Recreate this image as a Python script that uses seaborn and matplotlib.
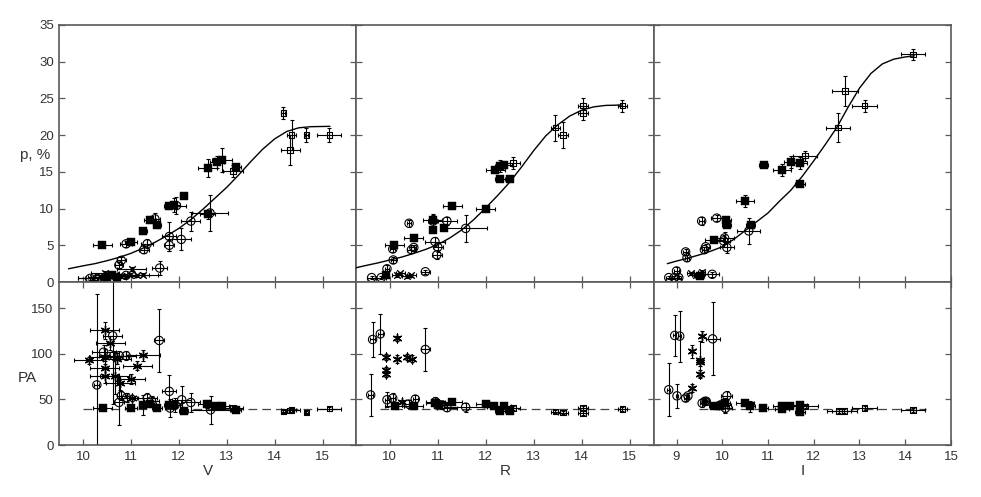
import matplotlib
matplotlib.use("Agg")
import matplotlib.pyplot as plt
import seaborn as sns

# ================= V band =================
V_fsq_x = [10.4, 11.0, 11.25, 11.4, 11.55, 11.8, 11.9, 12.1, 12.6, 12.6, 12.8, 12.9, 13.2, 10.5, 10.6, 10.7]
V_fsq_p = [5.0, 5.4, 6.9, 8.5, 7.8, 10.4, 10.5, 11.7, 15.5, 9.2, 16.3, 16.6, 15.6, 0.7, 0.9, 0.6]
V_fsq_xe = [0.2, 0.12, 0.08, 0.12, 0.08, 0.1, 0.12, 0.08, 0.2, 0.15, 0.15, 0.2, 0.1, 0.15, 0.2, 0.2]
V_fsq_pe = [0.3, 0.3, 0.3, 0.5, 0.4, 0.5, 1.0, 0.3, 1.2, 0.6, 0.8, 1.6, 0.5, 0.3, 0.3, 0.3]

V_oc_x = [10.75, 10.8, 10.9, 11.27, 11.34, 11.5, 11.6, 11.8, 11.8, 11.95, 12.05, 12.25, 12.65, 10.15, 10.3, 10.45, 10.9]
V_oc_p = [2.3, 2.95, 5.2, 4.4, 5.2, 8.6, 1.9, 6.2, 5.0, 10.4, 5.8, 8.3, 9.4, 0.5, 0.5, 0.6, 0.9]
V_oc_xe = [0.08, 0.1, 0.12, 0.1, 0.12, 0.1, 0.15, 0.15, 0.1, 0.2, 0.2, 0.2, 0.38, 0.25, 0.25, 0.25, 0.2]
V_oc_pe = [0.4, 0.5, 0.4, 0.5, 0.6, 0.8, 1.0, 2.0, 0.8, 1.2, 1.5, 1.3, 2.5, 0.2, 0.2, 0.2, 0.2]

V_osq_x = [13.13, 14.18, 14.35, 14.32, 14.66, 15.14]
V_osq_p = [15.1, 23.0, 20.0, 18.0, 20.0, 20.0]
V_osq_xe = [0.2, 0.04, 0.1, 0.2, 0.04, 0.25]
V_osq_pe = [0.8, 0.8, 2.0, 2.0, 1.0, 1.0]

V_x_x = [10.2, 10.35, 10.46, 10.55, 10.67, 10.8, 10.98, 11.02, 11.12, 11.26]
V_x_p = [0.5, 0.7, 1.2, 0.9, 1.0, 0.8, 1.0, 1.8, 0.9, 1.0]
V_x_xe = [0.3, 0.25, 0.3, 0.3, 0.25, 0.3, 0.3, 0.3, 0.25, 0.3]
V_x_pe = [0.2, 0.2, 0.3, 0.2, 0.2, 0.2, 0.2, 0.3, 0.2, 0.2]

V_fit_x = [9.7, 10.0, 10.25, 10.5, 10.75, 11.0, 11.25, 11.5, 11.75, 12.0, 12.25, 12.5, 12.75,
           13.0, 13.25, 13.5, 13.75, 14.0, 14.25, 14.5, 14.75, 15.15]
V_fit_p = [1.8, 2.2, 2.5, 2.9, 3.35, 3.9, 4.6, 5.4, 6.3, 7.3, 8.5, 9.9, 11.4,
           12.9, 14.6, 16.4, 18.1, 19.5, 20.5, 21.0, 21.15, 21.2]

V_fsqPA_x = [10.41, 11.0, 11.26, 11.4, 11.54, 11.8, 11.9, 12.1, 12.59, 12.77, 12.9, 13.19]
V_fsqPA = [40.5, 41.0, 44.0, 45.0, 41.0, 44.0, 44.0, 37.9, 45.0, 42.3, 42.3, 38.6]
V_fsqPA_xe = [0.2, 0.12, 0.1, 0.12, 0.1, 0.1, 0.12, 0.1, 0.2, 0.15, 0.15, 0.1]
V_fsqPA_e = [2, 2, 11, 3, 2, 3, 4, 2, 4, 2, 2, 2]

V_ocPA_x = [10.29, 10.43, 10.62, 10.64, 10.76, 10.9, 10.75, 10.8, 10.91, 11.34, 11.43, 11.59,
            11.8, 11.82, 11.92, 12.06, 12.25, 12.66]
V_ocPA = [66, 102, 120, 98, 98, 98, 46.7, 54, 52, 51.5, 48.5, 114.8, 58.9, 40.5, 44, 49.7, 46.7, 38.6]
V_ocPA_xe = [0.05, 0.25, 0.2, 0.3, 0.2, 0.2, 0.1, 0.1, 0.15, 0.2, 0.15, 0.1, 0.15, 0.1, 0.15, 0.2, 0.2, 0.4]
V_ocPA_e = [100, 8, 75, 5, 5, 5, 25, 5, 5, 6, 5, 35, 18, 10, 8, 15, 10, 15]

V_astPA_x = [10.45, 10.57, 10.12, 11.25, 11.13, 10.45, 10.45, 10.66, 11.0, 10.78, 10.45, 10.7, 11.02]
V_astPA = [125.8, 112, 93, 98.6, 87.2, 84.6, 76, 76, 72.5, 68, 97, 95, 51.5]
V_astPA_xe = [0.3, 0.3, 0.3, 0.36, 0.3, 0.3, 0.3, 0.3, 0.3, 0.3, 0.3, 0.3, 0.1]
V_astPA_e = [9, 8, 4, 6, 5, 8, 8, 20, 6, 8, 8, 6, 3]

V_osqPA_x = [13.13, 14.18, 14.35, 14.32, 14.66, 15.14]
V_osqPA = [40.5, 36.8, 38.6, 38.0, 35.7, 39.9]
V_osqPA_xe = [0.2, 0.04, 0.1, 0.2, 0.04, 0.25]
V_osqPA_e = [2, 2, 2, 2, 2, 2]

V_mean_x = [10.0, 15.38]
V_mean_PA = [40, 40]

# ================= R band =================
R_fsq_x = [9.92, 10.09, 10.5, 10.89, 10.9, 11.12, 11.3, 12.0, 12.2, 12.3, 12.39, 12.3, 12.5]
R_fsq_p = [0.95, 5.0, 5.95, 8.45, 7.1, 7.4, 10.35, 10.0, 15.2, 15.8, 15.9, 14.0, 14.0]
R_fsq_xe = [0.05, 0.2, 0.2, 0.2, 0.05, 0.05, 0.2, 0.2, 0.2, 0.1, 0.15, 0.1, 0.05]
R_fsq_pe = [0.2, 0.3, 0.3, 0.8, 0.3, 0.3, 0.4, 0.2, 0.4, 0.8, 0.4, 0.2, 0.2]

R_oc_x = [9.62, 9.82, 9.94, 10.07, 10.06, 10.4, 10.45, 10.5, 10.9, 10.94, 11.0, 10.98, 11.19, 11.58, 10.74]
R_oc_p = [0.6, 0.6, 1.8, 3.0, 4.5, 8.0, 4.4, 4.7, 8.3, 5.5, 4.75, 3.7, 8.3, 7.3, 1.4]
R_oc_xe = [0.1, 0.1, 0.05, 0.05, 0.05, 0.05, 0.1, 0.05, 0.1, 0.2, 0.1, 0.1, 0.2, 0.45, 0.1]
R_oc_pe = [0.2, 0.2, 0.5, 0.4, 0.4, 0.5, 0.4, 0.4, 0.8, 0.6, 0.6, 0.6, 0.6, 1.8, 0.3]

R_osq_x = [12.57, 13.45, 13.61, 14.03, 14.03, 14.85]
R_osq_p = [16.2, 21.0, 20.0, 24.0, 23.0, 24.0]
R_osq_xe = [0.15, 0.1, 0.1, 0.1, 0.1, 0.1]
R_osq_pe = [0.8, 1.8, 1.8, 1.0, 1.0, 0.8]

R_x_x = [10.14, 10.22, 10.35, 10.45]
R_x_p = [0.9, 1.2, 0.8, 0.9]
R_x_xe = [0.1, 0.1, 0.1, 0.1]
R_x_pe = [0.2, 0.2, 0.2, 0.2]

R_fit_x = [9.3, 9.5, 9.75, 10.0, 10.25, 10.5, 10.75, 11.0, 11.25, 11.5, 11.75, 12.0, 12.25,
           12.5, 12.75, 13.0, 13.25, 13.5, 13.75, 14.0, 14.25, 14.5, 14.85]
R_fit_p = [1.95, 2.25, 2.6, 3.0, 3.4, 3.9, 4.45, 5.1, 6.0, 7.1, 8.5, 10.1, 11.8,
           13.6, 15.7, 17.9, 19.9, 21.4, 22.6, 23.4, 23.85, 24.05, 24.1]

R_fsqPA_x = [10.1, 10.5, 10.95, 11.0, 11.3, 12.0, 12.17, 12.3, 12.38, 12.5]
R_fsqPA = [42.3, 42.3, 46.0, 44.0, 47.0, 45.0, 42.3, 37.9, 43.0, 37.9]
R_fsqPA_xe = [0.2, 0.2, 0.2, 0.05, 0.2, 0.2, 0.2, 0.1, 0.15, 0.05]
R_fsqPA_e = [2, 2, 3, 2, 2, 2, 2, 2, 2, 2]

R_ocPA_x = [9.64, 9.8, 9.6, 10.74, 9.94, 10.06, 10.39, 10.53, 10.95, 10.98, 11.09, 11.19, 11.58]
R_ocPA = [115.9, 122, 55, 104.9, 49.7, 51.5, 45, 50.4, 47.5, 46, 44, 41, 41.6]
R_ocPA_xe = [0.05, 0.05, 0.05, 0.1, 0.05, 0.05, 0.1, 0.05, 0.2, 0.1, 0.1, 0.2, 0.45]
R_ocPA_e = [19.5, 22, 23, 24, 8, 6, 4, 4, 5, 4, 4, 4, 5]

R_astPA_x = [10.15, 9.92, 9.92, 9.92, 10.15, 10.36, 10.46, 10.25]
R_astPA = [117, 96.4, 82.8, 78, 94.6, 96.4, 95, 47.6]
R_astPA_xe = [0.03, 0.03, 0.03, 0.03, 0.03, 0.03, 0.05, 0.03]
R_astPA_e = [3, 3, 3, 3, 4, 3, 4, 2]

R_osqPA_x = [12.57, 13.45, 13.61, 14.03, 14.03, 14.85]
R_osqPA = [40.5, 36.8, 35.7, 40.5, 35.0, 39.4]
R_osqPA_xe = [0.15, 0.1, 0.1, 0.1, 0.1, 0.1]
R_osqPA_e = [2, 2, 2, 2, 2, 2]

R_mean_x = [9.79, 15.0]
R_mean_PA = [40, 40]

# ================= I band =================
I_fsq_x = [9.51, 9.82, 10.09, 10.1, 10.5, 10.62, 10.91, 11.31, 11.5, 11.7, 11.7]
I_fsq_p = [0.8, 5.7, 8.45, 7.76, 11.0, 7.7, 16.0, 15.3, 16.3, 16.2, 13.4]
I_fsq_xe = [0.1, 0.2, 0.1, 0.1, 0.2, 0.1, 0.1, 0.2, 0.15, 0.15, 0.1]
I_fsq_pe = [0.3, 0.3, 0.3, 0.3, 0.8, 0.3, 0.3, 0.8, 0.8, 0.8, 0.3]

I_oc_x = [8.83, 8.95, 9.0, 9.05, 9.2, 9.23, 9.55, 9.61, 9.64, 9.88, 10.03, 10.05, 10.1, 10.58, 9.78]
I_oc_p = [0.6, 0.6, 1.5, 0.6, 4.1, 3.3, 8.3, 4.4, 4.8, 8.7, 5.6, 6.0, 4.7, 6.95, 1.05]
I_oc_xe = [0.05, 0.05, 0.05, 0.05, 0.05, 0.05, 0.05, 0.05, 0.1, 0.12, 0.15, 0.2, 0.15, 0.25, 0.15]
I_oc_pe = [0.2, 0.2, 0.5, 0.2, 0.4, 0.4, 0.6, 0.4, 0.4, 0.4, 0.8, 0.8, 0.8, 1.8, 0.3]

I_osq_x = [11.81, 12.53, 12.68, 13.11, 14.17]
I_osq_p = [17.2, 21.0, 26.0, 24.0, 31.0]
I_osq_xe = [0.27, 0.27, 0.28, 0.27, 0.27]
I_osq_pe = [0.7, 2.0, 2.0, 0.8, 0.7]

I_x_x = [9.31, 9.42, 9.55]
I_x_p = [1.2, 1.0, 1.3]
I_x_xe = [0.08, 0.08, 0.08]
I_x_pe = [0.2, 0.2, 0.3]

I_fit_x = [8.8, 9.0, 9.25, 9.5, 9.75, 10.0, 10.25, 10.5, 10.75, 11.0, 11.25, 11.5, 11.75,
           12.0, 12.25, 12.5, 12.75, 13.0, 13.25, 13.5, 13.75, 14.0, 14.2]
I_fit_p = [2.5, 2.85, 3.25, 3.7, 4.2, 4.8, 5.8, 7.0, 8.2, 9.4, 11.0, 12.5, 14.4,
           16.5, 18.7, 21.0, 23.8, 26.4, 28.4, 29.7, 30.35, 30.65, 30.8]

I_fsqPA_x = [9.81, 9.95, 10.07, 10.5, 10.61, 10.9, 11.3, 11.3, 11.49, 11.7, 11.7]
I_fsqPA = [43, 43, 46, 46, 42.3, 40.5, 42.3, 39, 43, 44, 36.8]
I_fsqPA_xe = [0.1, 0.1, 0.1, 0.2, 0.1, 0.1, 0.2, 0.15, 0.15, 0.15, 0.1]
I_fsqPA_e = [2, 2, 2, 3, 6, 2, 3, 2, 2, 3, 2]

I_ocPA_x = [8.83, 8.96, 9.07, 9.01, 9.2, 9.25, 9.79, 9.56, 9.62, 9.65, 10.1, 10.05, 10.07, 9.96]
I_ocPA = [60.7, 120.3, 119.6, 54, 51.5, 54, 116.6, 46, 48, 48, 54, 44, 40.5, 44]
I_ocPA_xe = [0.03, 0.03, 0.03, 0.03, 0.03, 0.03, 0.15, 0.05, 0.05, 0.05, 0.12, 0.15, 0.15, 0.1]
I_ocPA_e = [29, 23, 28, 13, 3, 3, 40, 4, 4, 4, 5, 8, 5, 4]

I_astPA_x = [9.56, 9.33, 9.52, 9.52, 9.52, 9.33]
I_astPA = [119.6, 103, 93.8, 91, 78.4, 62.5]
I_astPA_xe = [0.03, 0.03, 0.03, 0.03, 0.03, 0.03]
I_astPA_e = [6, 7, 20, 4, 4, 4]

I_osqPA_x = [11.82, 12.55, 12.67, 13.11, 14.17]
I_osqPA = [42.3, 37.5, 37.5, 40.5, 38.6]
I_osqPA_xe = [0.27, 0.27, 0.28, 0.27, 0.27]
I_osqPA_e = [2, 2, 2, 2, 2]

I_mean_x = [9.5, 14.45]
I_mean_PA = [39.5, 39.5]

band_names = ["V", "R", "I"]
band_xlim = [(9.5, 15.7), (9.3, 15.5), (8.5, 15.0)]
band_xticks = [[10, 11, 12, 13, 14, 15], [10, 11, 12, 13, 14, 15], [9, 10, 11, 12, 13, 14, 15]]
p_ticks = [0, 5, 10, 15, 20, 25, 30, 35]
pa_ticks = [0, 50, 100, 150]

# ---------------- drawing ----------------
sns.set_theme(style="white")
plt.rcParams["font.family"] = ["Liberation Sans", "DejaVu Sans"]

fig = plt.figure(figsize=(9.81, 4.97), dpi=100)
gs = fig.add_gridspec(2, 3, height_ratios=[257, 163], left=0.0601, right=0.9694,
                      top=0.9497, bottom=0.1046, wspace=0, hspace=0)

EC = "black"


def draw_series(ax, x, y, xe, ye, kind):
    ax.errorbar(x, y, xerr=xe, yerr=ye, fmt="none", ecolor=EC, elinewidth=0.8,
                capsize=1.5, capthick=0.8, zorder=2)
    if kind == "fsq":
        sns.scatterplot(x=x, y=y, ax=ax, marker="s", s=28, color="black",
                        edgecolor="black", linewidth=0.3, zorder=3, legend=False)
    elif kind == "oc":
        sns.scatterplot(x=x, y=y, ax=ax, marker="o", s=36, facecolors="none",
                        edgecolor="black", linewidth=0.8, zorder=3, legend=False)
    elif kind == "osq":
        sns.scatterplot(x=x, y=y, ax=ax, marker="s", s=15, facecolors="none",
                        edgecolor="black", linewidth=0.8, zorder=3, legend=False)
    elif kind == "x":
        sns.scatterplot(x=x, y=y, ax=ax, marker="x", s=22, color="black",
                        linewidth=1.0, zorder=3, legend=False)
    elif kind == "ast":
        sns.scatterplot(x=x, y=y, ax=ax, marker=(6, 2, 0), s=40, color="black",
                        linewidth=1.0, zorder=3, legend=False)


top_data = [
    [(V_fsq_x, V_fsq_p, V_fsq_xe, V_fsq_pe, "fsq"), (V_oc_x, V_oc_p, V_oc_xe, V_oc_pe, "oc"),
     (V_osq_x, V_osq_p, V_osq_xe, V_osq_pe, "osq"), (V_x_x, V_x_p, V_x_xe, V_x_pe, "x")],
    [(R_fsq_x, R_fsq_p, R_fsq_xe, R_fsq_pe, "fsq"), (R_oc_x, R_oc_p, R_oc_xe, R_oc_pe, "oc"),
     (R_osq_x, R_osq_p, R_osq_xe, R_osq_pe, "osq"), (R_x_x, R_x_p, R_x_xe, R_x_pe, "x")],
    [(I_fsq_x, I_fsq_p, I_fsq_xe, I_fsq_pe, "fsq"), (I_oc_x, I_oc_p, I_oc_xe, I_oc_pe, "oc"),
     (I_osq_x, I_osq_p, I_osq_xe, I_osq_pe, "osq"), (I_x_x, I_x_p, I_x_xe, I_x_pe, "x")],
]
fits = [(V_fit_x, V_fit_p), (R_fit_x, R_fit_p), (I_fit_x, I_fit_p)]
bot_data = [
    [(V_fsqPA_x, V_fsqPA, V_fsqPA_xe, V_fsqPA_e, "fsq"), (V_ocPA_x, V_ocPA, V_ocPA_xe, V_ocPA_e, "oc"),
     (V_osqPA_x, V_osqPA, V_osqPA_xe, V_osqPA_e, "osq"), (V_astPA_x, V_astPA, V_astPA_xe, V_astPA_e, "ast")],
    [(R_fsqPA_x, R_fsqPA, R_fsqPA_xe, R_fsqPA_e, "fsq"), (R_ocPA_x, R_ocPA, R_ocPA_xe, R_ocPA_e, "oc"),
     (R_osqPA_x, R_osqPA, R_osqPA_xe, R_osqPA_e, "osq"), (R_astPA_x, R_astPA, R_astPA_xe, R_astPA_e, "ast")],
    [(I_fsqPA_x, I_fsqPA, I_fsqPA_xe, I_fsqPA_e, "fsq"), (I_ocPA_x, I_ocPA, I_ocPA_xe, I_ocPA_e, "oc"),
     (I_osqPA_x, I_osqPA, I_osqPA_xe, I_osqPA_e, "osq"), (I_astPA_x, I_astPA, I_astPA_xe, I_astPA_e, "ast")],
]
means = [(V_mean_x, V_mean_PA), (R_mean_x, R_mean_PA), (I_mean_x, I_mean_PA)]

SPINE = "#5a5a5a"
for j in range(3):
    axt = fig.add_subplot(gs[0, j])
    axb = fig.add_subplot(gs[1, j])
    for x, y, xe, ye, kind in top_data[j]:
        draw_series(axt, x, y, xe, ye, kind)
    sns.lineplot(x=fits[j][0], y=fits[j][1], ax=axt, color="black", linewidth=1.0,
                 sort=False, estimator=None, zorder=4)
    sns.lineplot(x=means[j][0], y=means[j][1], ax=axb, color="#444444", linewidth=0.9,
                 dashes=False, estimator=None, zorder=1).lines[-1].set_dashes([7, 4])
    for x, y, xe, ye, kind in bot_data[j]:
        draw_series(axb, x, y, xe, ye, kind)

    for ax in (axt, axb):
        ax.set_xlim(*band_xlim[j])
        ax.set_xticks(band_xticks[j])
        for s in ax.spines.values():
            s.set_color(SPINE)
            s.set_linewidth(1.2)
        ax.set_xlabel("")
        ax.set_ylabel("")
    axt.set_ylim(0, 35)
    axt.set_yticks(p_ticks)
    axb.set_ylim(0, 179)
    axb.set_yticks(pa_ticks)
    axt.tick_params(axis="both", direction="in", length=4, width=0.9, color=SPINE,
                    top=False, bottom=True, left=True, right=True,
                    labelbottom=False, labelleft=(j == 0), labelsize=9.5, labelcolor="#333333")
    axb.tick_params(axis="both", direction="in", length=4, width=0.9, color=SPINE,
                    top=True, bottom=True, left=True, right=True,
                    labelbottom=True, labelleft=(j == 0), labelsize=9.5, labelcolor="#333333", pad=4)
    axb.set_xlabel(band_names[j], fontsize=11, color="#333333", labelpad=1)

fig.text(35 / 981, 1 - 155 / 497, "p, %", fontsize=11, color="#333333", ha="center", va="center")
fig.text(27 / 981, 1 - 378 / 497, "PA", fontsize=11, color="#333333", ha="center", va="center")

fig.savefig("out.png", dpi=100)
